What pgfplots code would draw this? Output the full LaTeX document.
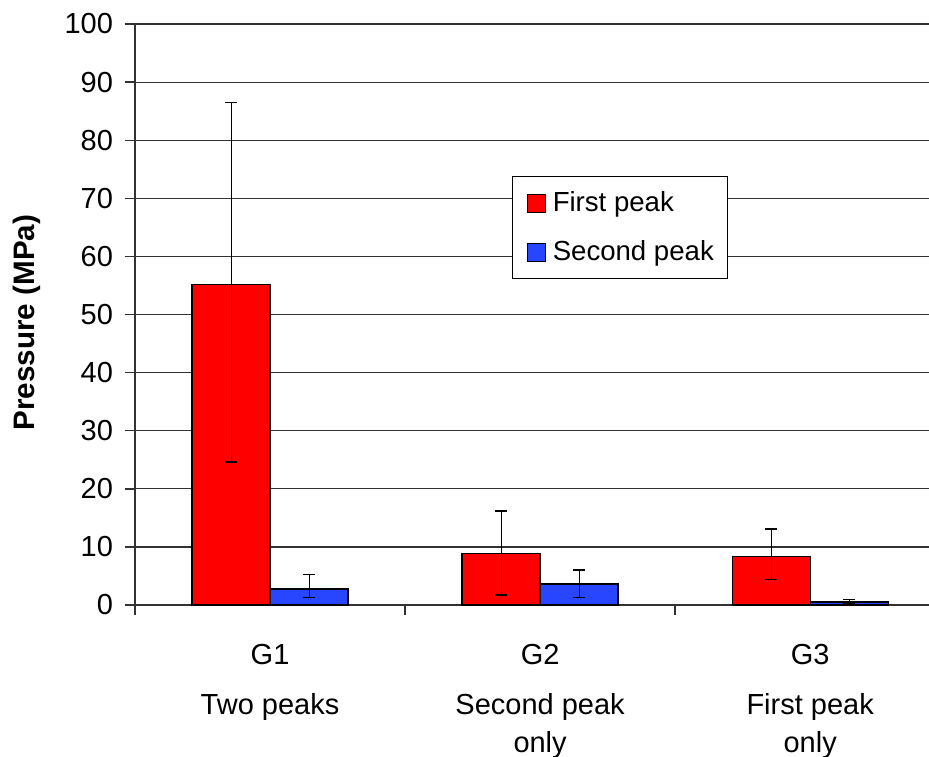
\documentclass[border=0pt]{standalone}
\usepackage{pgfplots}
\pgfplotsset{compat=1.18}
\usepackage{fontspec}
\setmainfont{Liberation Sans}
\definecolor{barred}{RGB}{255,0,0}
\definecolor{barblue}{RGB}{40,70,255}
\definecolor{gridgray}{RGB}{50,50,50}

\pgfplotstableread{
x y ep em
0 55.1 31.4 30.5
1 8.8 7.4 7.1
2 8.4 4.7 4.0
}\firstpeak
\pgfplotstableread{
x y ep em
0 2.75 2.5 1.5
1 3.6 2.4 2.3
2 0.5 0.4 0.3
}\secondpeak

\begin{document}
\begin{tikzpicture}
\begin{axis}[
  scale only axis, width=397pt, height=290.5pt,
  xmin=-0.5, xmax=2.44, ymin=0, ymax=100,
  axis x line*=bottom, axis y line*=left,
  axis line style={gridgray, line width=0.7pt},
  ybar=0pt, bar width=39pt,
  ytick distance=10,
  ymajorgrids, grid style={gridgray, line width=0.6pt},
  tick align=outside,
  tick style={gridgray, line width=0.7pt},
  major tick length=5pt,
  xtick={-0.5,0.5,1.5}, xticklabels={},
  extra x ticks={0,1,2},
  extra x tick style={major tick length=0pt, grid=none},
  extra x tick labels={G1\\[6pt]Two peaks, G2\\[6pt]Second peak\\only, G3\\[6pt]First peak\\only},
  xticklabel style={align=center, yshift=-16pt},
  yticklabel style={xshift=-2.5pt},
  ticklabel style={font=\fontsize{14.5}{19}\selectfont},
  /pgf/number format/assume math mode=true,
  ylabel={\bfseries Pressure (MPa)},
  ylabel style={font=\fontsize{14.8}{17}\selectfont, at={(axis description cs:-0.136,0.486)}, anchor=center},
  legend style={at={(rel axis cs:0.475,0.738)}, anchor=north west, draw=black, fill=white,
    font=\fontsize{13.8}{17}\selectfont, row sep=9pt, inner xsep=5pt, inner ysep=5.5pt},
  legend cell align=left,
  legend image code/.code={\path (0pt,0pt) (12.5pt,0pt);
    \draw[#1, draw=black] (2pt,-4.5pt) rectangle (11pt,4.5pt);},
  error bars/y dir=both, error bars/y explicit,
  error bars/error bar style={black, line width=0.5pt},
  error bars/error mark options={rotate=90, mark size=3pt, black, line width=0.7pt},
]
\addplot[fill=barred, draw=black, line width=0.6pt] table[x=x, y=y, y error plus=ep, y error minus=em] {\firstpeak};
\addplot[fill=barblue, draw=black, line width=0.6pt] table[x=x, y=y, y error plus=ep, y error minus=em] {\secondpeak};
\legend{First peak, Second peak}
\coordinate (bl) at (rel axis cs:0,0);
\coordinate (tr) at (rel axis cs:1,1);
\end{axis}
\pgfresetboundingbox
\path ([shift={(-67.5pt,-76pt)}]bl) rectangle ([shift={(0pt,12pt)}]tr);
\end{tikzpicture}
\end{document}
